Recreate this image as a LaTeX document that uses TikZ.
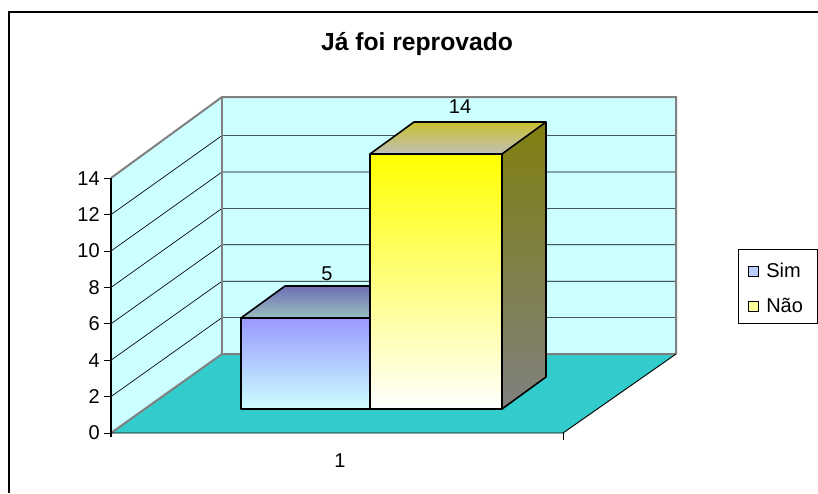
\documentclass[tikz,border=0pt]{standalone}
\usepackage{fontspec}
\setmainfont{Liberation Sans}
\definecolor{wall}{HTML}{CCFFFF}
\definecolor{floorc}{HTML}{33CCCC}
\definecolor{simfront}{HTML}{9999FF}
\definecolor{simtop}{HTML}{6E6EB4}
\definecolor{simtopb}{HTML}{99BFBF}
\definecolor{naotop}{HTML}{C8C030}
\definecolor{naotopb}{HTML}{C0C0B8}
\definecolor{naoside}{HTML}{808010}
\definecolor{legsim}{HTML}{BBCCFF}
\definecolor{legnao}{HTML}{FFFF99}
\begin{document}
\begin{tikzpicture}[x=0.75pt,y=-0.75pt,
  grayedge/.style={draw=gray,line width=1.5pt},
  gridln/.style={draw=black,line width=0.5pt},
  baredge/.style={draw=black,line width=1.2pt,line join=round},
  lbl/.style={font=\fontsize{15}{17}\selectfont,inner sep=0pt},
  legbox/.style={draw=black,line width=0.7pt,minimum size=7.5pt,inner sep=0pt}
]
\useasboundingbox (0,0) rectangle (818,493);
\fill[white] (0,0) rectangle (818,493);
% frame
\draw[line width=1.6pt] (9,493) -- (9,12) -- (818,12);
% floor
\fill[floorc] (111,433) -- (563,433) -- (676,354) -- (222,354) -- cycle;
% walls
\fill[wall] (111,433) -- (111,178) -- (222,97) -- (222,354) -- cycle;
\fill[wall] (222,354) -- (222,97) -- (676,97) -- (676,354) -- cycle;
% gridlines
\foreach \v in {2,4,...,12}{
  \draw[gridln] (111,{433-18.2*\v}) -- (222,{354-18.2*\v}) -- (676,{354-18.2*\v});
}
% gray edges
\draw[grayedge] (111,433) -- (222,354) -- (676,354);
\draw[grayedge] (111,178) -- (222,97) -- (676,97) -- (676,354);
\draw[grayedge] (222,97) -- (222,354);
% floor front edges
\draw[line width=0.7pt] (111,433) -- (563,433) -- (676,354);
\draw[line width=0.7pt] (563,433) -- (563,440);
% y axis
\draw[line width=0.9pt] (111,178) -- (111,437);
\foreach \v in {0,2,...,14}{
  \draw[line width=0.7pt] (104,{433-18.2*\v}) -- (111,{433-18.2*\v});
  \node[lbl,anchor=east] (y\v) at (100,{433-18.2*\v}) {\v};
}
\node[lbl] (cat) at (340,461) {1};
% Sim bar
\shade[top color=simfront,bottom color=wall] (241,409) rectangle (370,318);
\shade[top color=simtop,bottom color=simtopb] (241,318) -- (370,318) -- (414,286) -- (285,286) -- cycle;
\draw[baredge] (241,409) -- (370,409) -- (370,318) -- (241,318) -- cycle;
\draw[baredge] (241,318) -- (285,286) -- (414,286) -- (370,318);
% Nao bar
\shade[top color=yellow,bottom color=white] (370,409) rectangle (502,154);
\shade[top color=naotop,bottom color=naotopb] (370,154) -- (502,154) -- (546,122) -- (414,122) -- cycle;
\shade[top color=naoside,bottom color=gray] (502,154) -- (546,122) -- (546,377) -- (502,409) -- cycle;
\draw[baredge] (370,409) -- (502,409) -- (502,154) -- (370,154) -- cycle;
\draw[baredge] (370,154) -- (414,122) -- (546,122) -- (502,154);
\draw[baredge] (546,122) -- (546,377) -- (502,409);
% value labels
\node[lbl] (v5) at (327,274) {5};
\node[lbl] (v14) at (460,107) {14};
% title
\node[font=\fontsize{18.5}{21}\selectfont\bfseries,inner sep=0pt] (title) at (417,44) {Já foi reprovado};
% legend
\draw[line width=0.7pt] (738,249) rectangle (817,323);
\node[legbox,fill=legsim] (ls) at (753,271) {};
\node[lbl,anchor=west] (lst) at (766,270) {Sim};
\node[legbox,fill=legnao] (ln) at (753,306) {};
\node[lbl,anchor=west] (lnt) at (766,305) {Não};
\end{tikzpicture}
\end{document}
